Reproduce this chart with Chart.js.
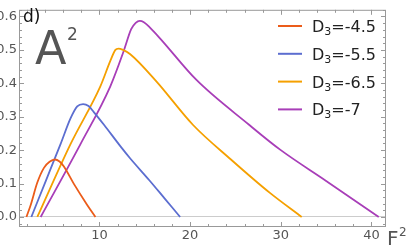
<!DOCTYPE html>
<html>
<head>
<meta charset="utf-8">
<script src="https://cdn.jsdelivr.net/npm/chart.js@4.4.0/dist/chart.umd.min.js"></script>
<style>
  html, body { margin: 0; padding: 0; background: #fff; }
  canvas { display: block; }
</style>
</head>
<body>
<canvas id="grafico" width="406" height="245"></canvas>
<script>
// Datos (F^2 en x, A^2 en y)
const etiquetas = ['-4.5', '-5.5', '-6.5', '-7'];
const colores = ['rgb(235,92,26)', 'rgb(92,110,208)', 'rgb(245,160,0)', 'rgb(168,62,184)'];

const f_d45 = [1.95, 2.42, 3.15, 3.88, 4.5, 5.09, 5.6, 6.08, 7.18, 8.65, 9.56];
const a_d45 = [0, 0.036, 0.103, 0.147, 0.165, 0.172, 0.166, 0.151, 0.099, 0.036, 0];

const f_d55 = [2.49, 4.1, 5.71, 6.81, 7.55, 8.2, 8.8, 9.38, 10.5, 12.3, 13.4, 15.5, 17.2, 18.9];
const a_d55 = [0, 0.109, 0.218, 0.295, 0.331, 0.338, 0.332, 0.314, 0.276, 0.212, 0.175, 0.11, 0.055, 0];

const f_d65 = [3.15, 6.81, 10.1, 11.2, 11.76, 12.1, 12.6, 13.4, 16.3, 20.3, 24.5, 28.8, 32.3];
const a_d65 = [0, 0.218, 0.391, 0.467, 0.5, 0.504, 0.5, 0.487, 0.405, 0.276, 0.172, 0.072, 0];

const f_d7 = [3.52, 7.91, 11.2, 12.67, 13.5, 14.0, 14.45, 14.9, 15.6, 16.7, 20.7, 26.5, 30, 35, 40.8];
const a_d7 = [0, 0.218, 0.391, 0.496, 0.562, 0.581, 0.587, 0.583, 0.566, 0.534, 0.41, 0.276, 0.2, 0.108, 0];

const ticks_x = [10, 20, 30, 40];
const ticks_y = [0, 0.1, 0.2, 0.3, 0.4, 0.5, 0.6];

const series = [[f_d45, a_d45], [f_d55, a_d55], [f_d65, a_d65], [f_d7, a_d7]];

function puntos(fs, as) {
    return fs.map((f, i) => ({ x: f, y: as[i] }));
}

// Marco, marcas de ejes, textos y leyenda
const marcoPlugin = {
    id: 'marco',
    afterDraw(chart) {
        const ctx = chart.ctx;
        const area = chart.chartArea;
        const sx = chart.scales.x;
        const sy = chart.scales.y;
        ctx.save();
        ctx.strokeStyle = '#999';
        ctx.lineWidth = 1;
        ctx.strokeRect(area.left + 0.5, area.top + 0.5, area.right - area.left - 1, area.bottom - area.top - 1);

        ctx.beginPath();
        for (let v = 2; v <= 41; v += 2) {
            const px = Math.round(sx.getPixelForValue(v)) + 0.5;
            const len = v % 10 === 0 ? 5 : 3;
            ctx.moveTo(px, area.bottom);
            ctx.lineTo(px, area.bottom - len);
            ctx.moveTo(px, area.top);
            ctx.lineTo(px, area.top + len);
        }
        for (let k = -1; k <= 31; k++) {
            const v = k * 0.02;
            const py = Math.round(sy.getPixelForValue(v)) + 0.5;
            if (py < area.top || py > area.bottom) continue;
            const len = k % 5 === 0 ? 5 : 3;
            ctx.moveTo(area.left, py);
            ctx.lineTo(area.left + len, py);
            ctx.moveTo(area.right, py);
            ctx.lineTo(area.right - len, py);
        }
        ctx.stroke();

        // d)
        ctx.fillStyle = '#111';
        ctx.textBaseline = 'alphabetic';
        ctx.font = '17px "DejaVu Sans"';
        ctx.fillText('d)', 23, 22);

        // A^2
        ctx.fillStyle = '#555';
        ctx.font = '46px "DejaVu Sans"';
        ctx.fillText('A', 35, 64);
        ctx.font = '17px "DejaVu Sans"';
        ctx.fillText('2', 67, 40);

        // F^2
        ctx.font = '20px "DejaVu Sans"';
        ctx.fillText('F', 387, 245);
        ctx.font = '12px "DejaVu Sans"';
        ctx.fillText('2', 399, 236);

        // leyenda
        chart.data.datasets.forEach((ds, i) => {
            const y = 26 + i * 27.8;
            ctx.strokeStyle = ds.borderColor;
            ctx.lineWidth = 2;
            ctx.beginPath();
            ctx.moveTo(278, y);
            ctx.lineTo(302, y);
            ctx.stroke();
            ctx.fillStyle = '#222';
            ctx.font = '16px "DejaVu Sans"';
            ctx.fillText('D', 312, y + 6);
            const wD = ctx.measureText('D').width;
            ctx.font = '11px "DejaVu Sans"';
            ctx.fillText('3', 312 + wD, y + 9);
            const w3 = ctx.measureText('3').width;
            ctx.font = '16px "DejaVu Sans"';
            ctx.fillText('=' + etiquetas[i], 312 + wD + w3, y + 6);
        });
        ctx.restore();
    }
};

const grafico = new Chart(document.getElementById('grafico'), {
    type: 'line',
    data: {
        datasets: series.map((s, i) => ({
            label: 'D3=' + etiquetas[i],
            data: puntos(s[0], s[1]),
            borderColor: colores[i],
            borderWidth: 1.8,
            pointRadius: 0,
            fill: false,
            cubicInterpolationMode: 'monotone'
        }))
    },
    options: {
        responsive: false,
        animation: false,
        devicePixelRatio: 1,
        layout: { padding: { left: 0, right: 20, top: 0, bottom: 0 } },
        plugins: {
            legend: { display: false },
            tooltip: { enabled: false }
        },
        scales: {
            x: {
                type: 'linear',
                min: 1.13,
                max: 41.6,
                afterBuildTicks: scale => { scale.ticks = ticks_x.map(v => ({ value: v })); },
                afterFit: scale => { scale.height = 18; },
                ticks: {
                    color: '#555',
                    font: { family: 'DejaVu Sans', size: 13 },
                    padding: 1,
                    maxRotation: 0
                },
                grid: { display: false, drawTicks: false },
                border: { display: false }
            },
            y: {
                type: 'linear',
                min: -0.03,
                max: 0.62,
                afterBuildTicks: scale => { scale.ticks = ticks_y.map(v => ({ value: v })); },
                afterFit: scale => { scale.width = 19; },
                ticks: {
                    color: '#555',
                    font: { family: 'DejaVu Sans', size: 13 },
                    padding: 2,
                    callback: v => v.toFixed(1)
                },
                grid: {
                    drawTicks: false,
                    color: c => (c.tick && c.tick.value === 0) ? '#ccc' : 'rgba(0,0,0,0)'
                },
                border: { display: false }
            }
        }
    },
    plugins: [marcoPlugin]
});
</script>
</body>
</html>
